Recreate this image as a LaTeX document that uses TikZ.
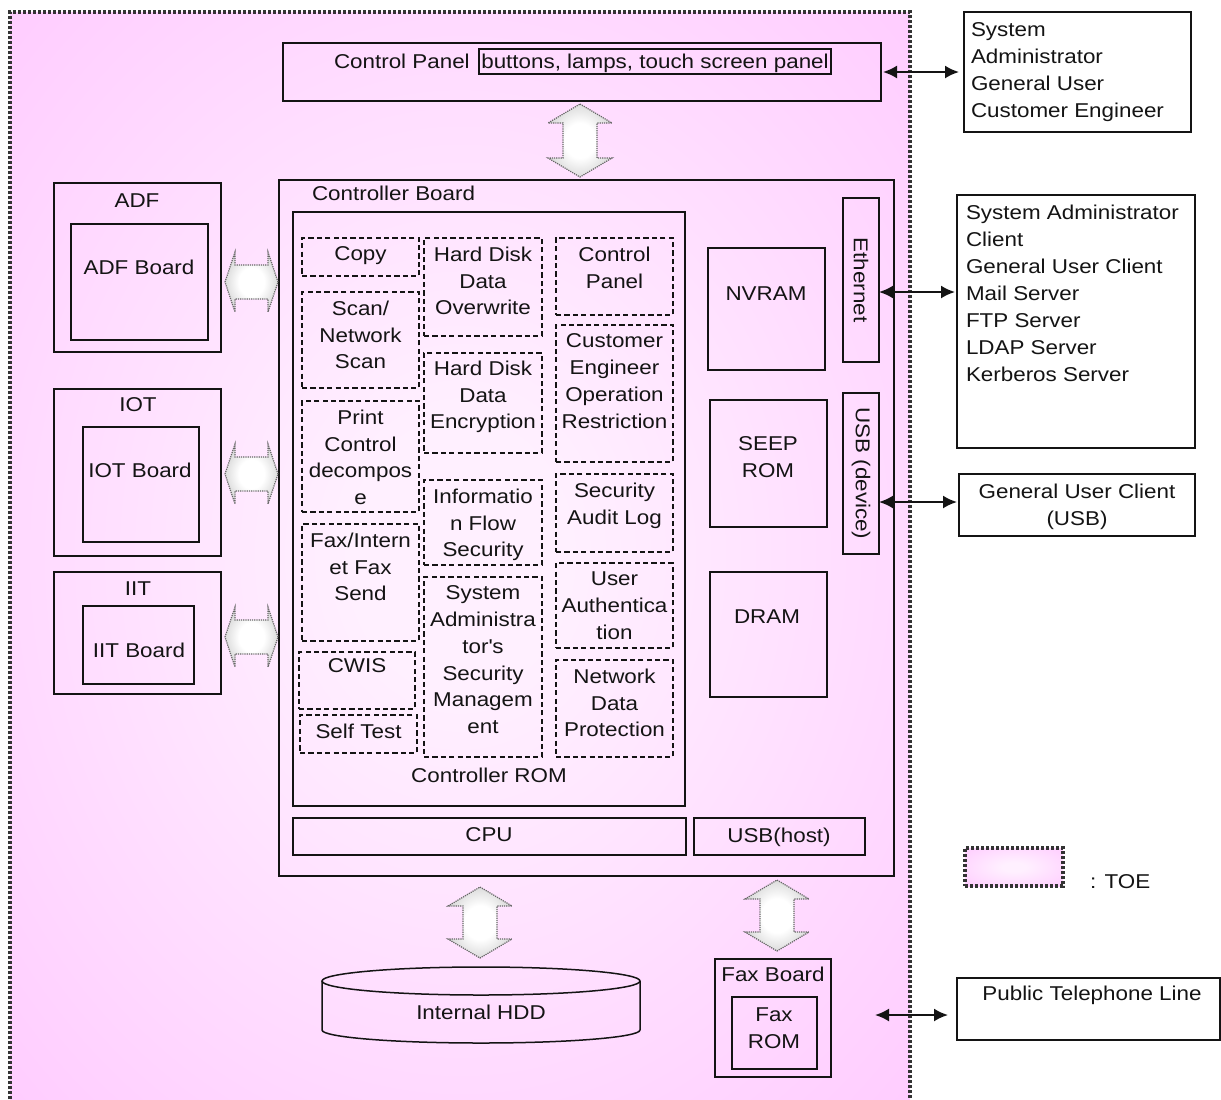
\documentclass[tikz,border=0pt]{standalone}
\usepackage{fontspec}
\setmainfont{Liberation Sans}[FakeStretch=1.12]
\usetikzlibrary{arrows.meta,calc}
\definecolor{toein}{RGB}{255,240,255}
\definecolor{toeout}{RGB}{255,204,255}
\definecolor{arrowgray}{RGB}{165,165,165}
\definecolor{ink}{RGB}{20,20,20}
\pgfdeclareradialshading{toeshade}{\pgfpoint{0bp}{0bp}}{color(0bp)=(toein); color(6bp)=(toein); color(36bp)=(toeout); color(50bp)=(toeout)}
\pgfdeclareradialshading{arrowshade}{\pgfpoint{0bp}{0bp}}{color(0bp)=(white); color(12bp)=(white); color(45bp)=(arrowgray); color(50bp)=(arrowgray)}
\newcommand\mkbox[6]{\node[#2,anchor=north west,minimum width={(#5-#3)*0.5pt},minimum height={(#6-#4)*0.5pt}] (#1) at (#3,#4) {};}
\newcommand\dtext[2]{\node[txt,anchor=north] (#1-t) at ([yshift=-4.4pt]#1.north) {#2};}
\newcommand\fatV[3]{\path[fatarrow] (#1,#2) -- ++(32,19) -- ++(-15,0) -- (#1+17,#3-19) -- ++(15,0) -- (#1,#3) -- ++(-32,-19) -- ++(15,0) -- (#1-17,#2+19) -- ++(-15,0) -- cycle;}
\newcommand\fatH[3]{\path[fatarrow] (#2,#1) -- ++(10,-30) -- ++(0,13) -- (#3-10,#1-17) -- ++(0,-13) -- (#3,#1) -- ++(-10,30) -- ++(0,-13) -- (#2+10,#1+17) -- ++(0,13) -- cycle;}
\begin{document}
\begin{tikzpicture}[x=0.5pt,y=-0.5pt,
  sbox/.style={draw=ink, line width=0.75pt, inner sep=0pt, outer sep=0pt},
  dbox/.style={draw=ink, line width=0.6pt, dash pattern=on 2.6pt off 1.6pt, inner sep=0pt, outer sep=0pt},
  wbox/.style={sbox, fill=white},
  txt/.style={font=\fontsize{10}{13.4}\selectfont, inner sep=0pt, outer sep=0pt, align=center, text=ink},
  ltxt/.style={txt, align=left, font=\fontsize{10}{13.5}\selectfont},
  toeborder/.style={draw=black!80, line width=1.7pt, dash pattern=on 1.5pt off 1pt},
  keybox/.style={toeborder, shading=toeshade, inner sep=0pt, outer sep=0pt},
  fatarrow/.style={shading=arrowshade, draw=black!60, line width=0.6pt, dash pattern=on 0.6pt off 0.5pt},
  biarrow/.style={{Latex[length=7pt,width=6.5pt]}-{Latex[length=7pt,width=6.5pt]}, draw=ink, line width=1pt},
]
\useasboundingbox (0,0) rectangle (1221,1099);
\fill[white] (0,0) rectangle (1221,1099);
% TOE region
\path[shading=toeshade] (10,12) rectangle (910,1099);
\draw[toeborder] (10,1099) -- (10,12) -- (910,12) -- (910,1099);

% Control panel
\mkbox{cp}{sbox}{283}{43}{881}{101}
\node[txt,anchor=base west] (cpl) at (334,68) {Control Panel};
\mkbox{cpin}{sbox}{479}{49}{831}{74}
\node[txt,anchor=base] (cpinl) at (655,68) {buttons, lamps, touch screen panel};

% Controller board
\mkbox{cb}{sbox}{279}{180}{894}{876}
\node[txt,anchor=base west] (cbl) at (312,200) {Controller Board};
\mkbox{rom}{sbox}{293}{212}{685}{806}
\node[txt,anchor=base] (roml) at (489,782) {Controller ROM};

% function boxes
\mkbox{copy}{dbox}{302}{238}{419}{276}
\mkbox{scan}{dbox}{302}{292}{419}{388}
\mkbox{print}{dbox}{302}{401}{419}{512}
\mkbox{fax}{dbox}{302}{524}{419}{641}
\mkbox{cwis}{dbox}{299}{652}{415}{709}
\mkbox{self}{dbox}{300}{715}{417}{753}
\mkbox{hdo}{dbox}{424}{238}{542}{336}
\mkbox{hde}{dbox}{424}{353}{542}{453}
\mkbox{ifs}{dbox}{424}{480}{542}{565}
\mkbox{sasm}{dbox}{424}{577}{542}{757}
\mkbox{cpf}{dbox}{556}{238}{673}{315}
\mkbox{ceor}{dbox}{556}{325}{673}{462}
\mkbox{sal}{dbox}{556}{474}{673}{552}
\mkbox{ua}{dbox}{556}{563}{673}{648}
\mkbox{ndp}{dbox}{556}{660}{673}{757}
\dtext{copy}{Copy}
\dtext{scan}{Scan/\\Network\\Scan}
\dtext{print}{Print\\Control\\decompos\\e}
\dtext{fax}{Fax/Intern\\et Fax\\Send}
\node[txt,anchor=north] (cwis-t) at ([yshift=-3.4pt]cwis.north) {CWIS};
\dtext{self}{Self Test}
\dtext{hdo}{Hard Disk\\Data\\Overwrite}
\node[txt,anchor=north] (hde-t) at ([yshift=-3.9pt]hde.north) {Hard Disk\\Data\\Encryption};
\dtext{ifs}{Informatio\\n Flow\\Security}
\dtext{sasm}{System\\Administra\\tor\textquotesingle s\\Security\\Managem\\ent}
\dtext{cpf}{Control\\Panel}
\dtext{ceor}{Customer\\Engineer\\Operation\\Restriction}
\dtext{sal}{Security\\Audit Log}
\dtext{ua}{User\\Authentica\\tion}
\dtext{ndp}{Network\\Data\\Protection}

% memories and interfaces
\mkbox{nvram}{sbox}{708}{248}{825}{370}
\node[txt,anchor=base] (nvraml) at (766,300) {NVRAM};
\mkbox{seep}{sbox}{710}{400}{827}{527}
\node[txt,anchor=north] (seepl) at (768,437) {SEEP\\ROM};
\mkbox{dram}{sbox}{710}{572}{827}{697}
\node[txt,anchor=base] (draml) at (767,623) {DRAM};
\mkbox{eth}{sbox}{843}{198}{879}{362}
\node[txt,rotate=-90] (ethl) at (eth.center) {Ethernet};
\mkbox{usbd}{sbox}{843}{393}{879}{554}
\node[txt,rotate=-90] (usbdl) at (usbd.center) {USB (device)};
\mkbox{cpu}{sbox}{293}{818}{686}{855}
\node[txt,anchor=base] (cpul) at (489,841) {CPU};
\mkbox{usbh}{sbox}{694}{818}{865}{855}
\node[txt,anchor=base] (usbhl) at (779,842) {USB(host)};

% left units
\mkbox{adf}{sbox}{54}{183}{221}{352}
\node[txt,anchor=base] (adfl) at (137,207) {ADF};
\mkbox{adfb}{sbox}{71}{224}{208}{340}
\node[txt,anchor=base] (adfbl) at (139,274) {ADF Board};
\mkbox{iot}{sbox}{54}{389}{221}{556}
\node[txt,anchor=base] (iotl) at (138,411) {IOT};
\mkbox{iotb}{sbox}{83}{427}{199}{542}
\node[txt,anchor=base] (iotbl) at (140,477) {IOT Board};
\mkbox{iit}{sbox}{54}{572}{221}{694}
\node[txt,anchor=base] (iitl) at (138,595) {IIT};
\mkbox{iitb}{sbox}{83}{606}{194}{684}
\node[txt,anchor=base] (iitbl) at (139,657) {IIT Board};

% internal HDD
\draw[sbox] (322,981) -- (322,1030) arc[start angle=180,end angle=0,x radius=159,y radius=13] -- (640,981);
\draw[sbox] (481,981) ellipse [x radius=159, y radius=14];
\node[txt,anchor=base] (hdd) at (481,1019) {Internal HDD};

% fax board
\mkbox{faxb}{sbox}{715}{959}{831}{1077}
\node[txt,anchor=base] (faxbl) at (773,981) {Fax Board};
\mkbox{faxrom}{sbox}{732}{997}{817}{1069}
\node[txt,anchor=north] (faxroml) at (774,1008) {Fax\\ROM};

% fat arrows
\fatV{580}{104}{177}
\fatV{480}{887}{958}
\fatV{777}{880}{951}
\fatH{282}{225}{278}
\fatH{474}{225}{278}
\fatH{637}{225}{278}

% external entities
\mkbox{users}{wbox}{964}{12}{1191}{132}
\node[ltxt,anchor=north west] (usersl) at (971,23) {System\\Administrator\\General User\\Customer Engineer};
\mkbox{net}{wbox}{957}{195}{1195}{448}
\node[ltxt,anchor=north west] (netl) at (966,205) {System Administrator\\Client\\General User Client\\Mail Server\\FTP Server\\LDAP Server\\Kerberos Server};
\mkbox{usbc}{wbox}{959}{474}{1195}{536}
\node[txt,anchor=north,font=\fontsize{10}{13.5}\selectfont] (usbcl) at (1077,484) {General User Client\\(USB)};
\mkbox{tel}{wbox}{957}{978}{1220}{1040}
\node[txt,anchor=base] (tell) at (1092,1000) {Public Telephone Line};

% connectors
\draw[biarrow, shorten <=1pt, shorten >=2.5pt] (cp.east) -- (users.west);
\coordinate (ethy) at (0,292);
\draw[biarrow, shorten >=1pt] (eth.east |- ethy) -- (net.west |- ethy);
\coordinate (usby) at (0,502);
\draw[biarrow, shorten >=1pt] (usbd.east |- usby) -- (usbc.west |- usby);
\coordinate (faxend) at (875,1015);
\draw[biarrow, shorten >=4.5pt] (faxend) -- (tel.west |- faxend);

% legend
\mkbox{toekey}{keybox}{965}{848}{1063}{886}
\node[txt,anchor=base west] (toel) at (1090,888) {: TOE};
\end{tikzpicture}
\end{document}
